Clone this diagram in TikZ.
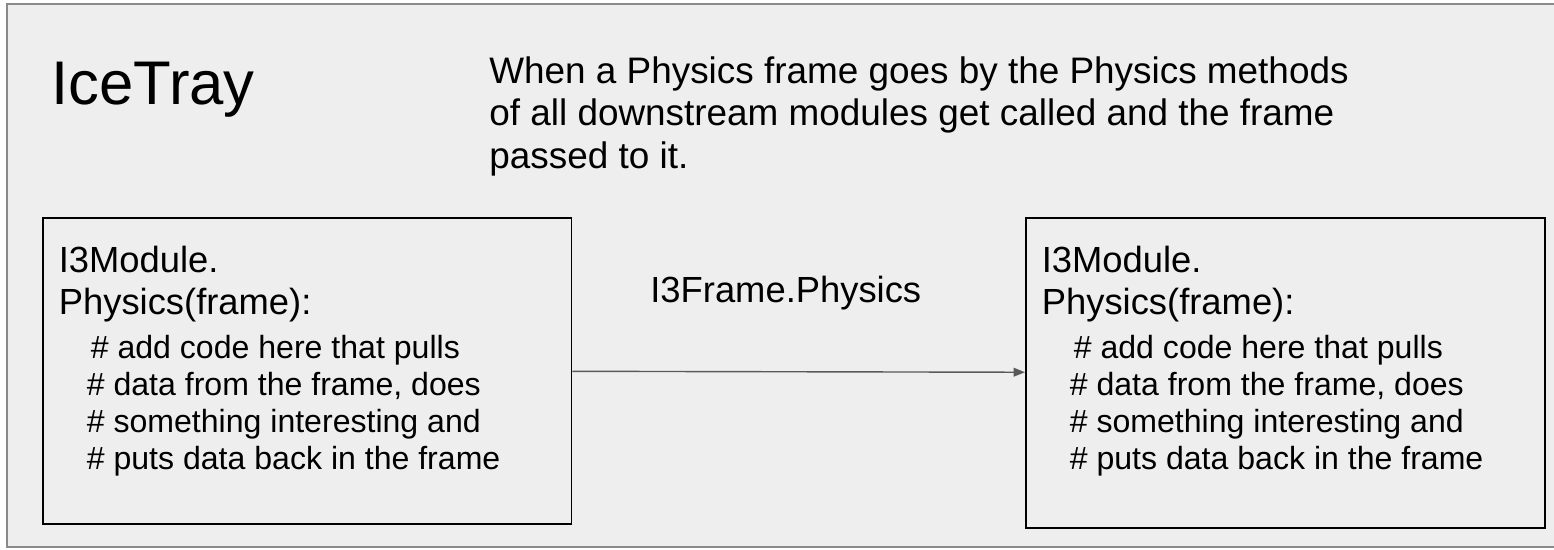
\documentclass[tikz,border=0pt]{standalone}
\usepackage{fontspec}
\setmainfont{Liberation Sans}
\usetikzlibrary{arrows.meta,positioning}

\definecolor{slidebg}{HTML}{EEEEEE}
\definecolor{framegray}{HTML}{8A8A8A}
\definecolor{arrowgray}{HTML}{595959}

\tikzset{
  module/.style={draw=black, line width=0.9pt, fill=slidebg, inner sep=0pt, anchor=north west},
  txt/.style={anchor=base west, inner sep=0pt, text=black},
  title/.style={txt, font=\fontsize{35.1}{40}\selectfont},
  note/.style={txt, anchor=north west, font=\fontsize{21}{24.4}\selectfont, align=left},
  head/.style={txt, font=\fontsize{20.7}{23.8}\selectfont},
  comment/.style={txt, font=\fontsize{18.25}{21}\selectfont},
  flow/.style={draw=arrowgray, line width=0.8pt, -{Triangle[length=6.5pt,width=5pt]}}
}

\begin{document}
\begin{tikzpicture}[x=0.02cm, y=-0.02cm]
  % slide area
  \useasboundingbox (0,0) rectangle (1554,549);
  \clip (0,0) rectangle (1554,549);
  \fill[white] (0,0) rectangle (1554,549);
  \fill[slidebg] (7,4) rectangle (1570,547);
  \draw[framegray, line width=1.1pt] (7,4) rectangle (1570,547);

  % heading and explanation
  \node[title] (tray) at (51,104) {IceTray};
  \node[note] (expl) at (489,56)
    {When a Physics frame goes by the Physics methods\\
     of all downstream modules get called and the frame\\
     passed to it.};

  % the two modules
  \node[module, minimum width=10.58cm, minimum height=6.12cm] (lmod) at (42,217) {};
  \node[module, minimum width=10.38cm, minimum height=6.2cm] (rmod) at (1025,217) {};

  % frame passed downstream
  \draw[flow] (lmod) -- (rmod);
  \node[head] (lbl) at (650,302) {I3Frame.Physics};

  % module text, left
  \node[head] (lhead) at ([shift={(16.5,55)}]lmod.north west) {I3Module.};
  \node[head] (lcall) at ([shift={(16.5,97)}]lmod.north west) {Physics(frame):};
  \node[comment] (lc1) at ([shift={(48.5,141)}]lmod.north west) {\# add code here that pulls};
  \node[comment] (lc2) at ([shift={(44.5,178)}]lmod.north west) {\# data from the frame, does};
  \node[comment] (lc3) at ([shift={(44.5,215)}]lmod.north west) {\# something interesting and};
  \node[comment] (lc4) at ([shift={(44.5,252)}]lmod.north west) {\# puts data back in the frame};

  % module text, right
  \node[head] (rhead) at ([shift={(16.5,55)}]rmod.north west) {I3Module.};
  \node[head] (rcall) at ([shift={(16.5,97)}]rmod.north west) {Physics(frame):};
  \node[comment] (rc1) at ([shift={(48.5,141)}]rmod.north west) {\# add code here that pulls};
  \node[comment] (rc2) at ([shift={(44.5,178)}]rmod.north west) {\# data from the frame, does};
  \node[comment] (rc3) at ([shift={(44.5,215)}]rmod.north west) {\# something interesting and};
  \node[comment] (rc4) at ([shift={(44.5,252)}]rmod.north west) {\# puts data back in the frame};
\end{tikzpicture}
\end{document}
